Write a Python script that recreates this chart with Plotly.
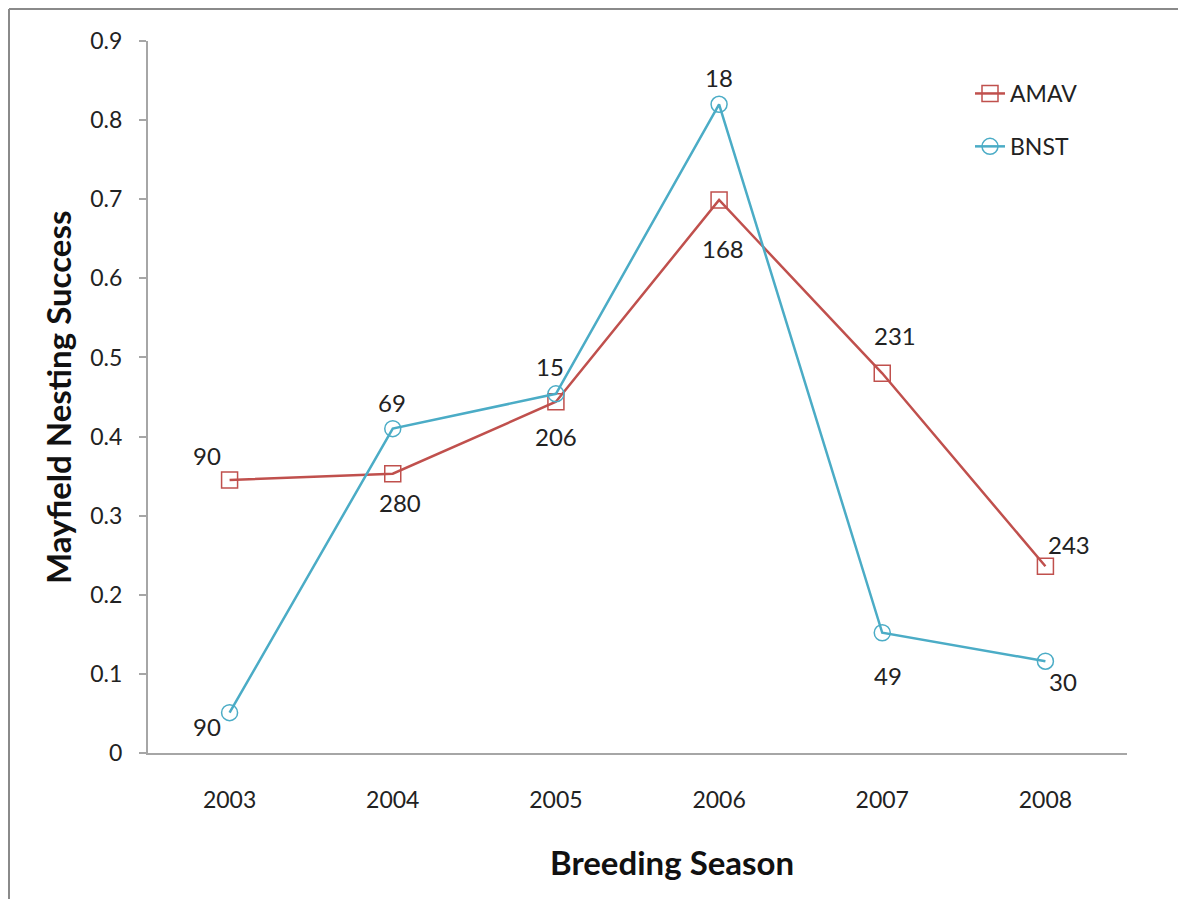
import plotly.graph_objects as go

years = ["2003", "2004", "2005", "2006", "2007", "2008"]
amav = [0.345, 0.353, 0.444, 0.699, 0.480, 0.236]
bnst = [0.051, 0.410, 0.454, 0.820, 0.152, 0.116]
amav_n = ["90", "280", "206", "168", "231", "243"]
bnst_n = ["90", "69", "15", "18", "49", "30"]
# label offsets in pixels (xshift, yshift)
amav_off = [(-23, 25), (7, -29), (0, -35), (4, -48), (13, 38), (24, 22)]
bnst_off = [(-23, -14), (-1, 26), (-6, 27), (0, 27), (6, -43), (18, -20)]

RED = "#C0504D"
BLUE = "#4BACC6"
FONT = "Lato"

fig = go.Figure()
fig.add_trace(go.Scatter(
    x=years, y=amav, name="AMAV", mode="lines+markers", legendgroup="a",
    line=dict(color=RED, width=2.5),
    marker=dict(symbol="square-open", size=16, color=RED, line=dict(width=1.5)),
))
fig.add_trace(go.Scatter(
    x=years, y=bnst, name="BNST", mode="lines+markers", legendgroup="b",
    line=dict(color=BLUE, width=2.5),
    marker=dict(symbol="circle-open", size=16, color=BLUE, line=dict(width=1.5)),
))

ann = []
for i, (v, t, (dx, dy)) in enumerate(zip(amav, amav_n, amav_off)):
    ann.append(dict(xref="x", yref="y", x=i, y=v, text=t, showarrow=False,
                    xshift=dx, yshift=dy, xanchor="center", yanchor="middle",
                    font=dict(family=FONT, size=24, color="#222")))
for i, (v, t, (dx, dy)) in enumerate(zip(bnst, bnst_n, bnst_off)):
    ann.append(dict(xref="x", yref="y", x=i, y=v, text=t, showarrow=False,
                    xshift=dx, yshift=dy, xanchor="center", yanchor="middle",
                    font=dict(family=FONT, size=24, color="#222")))
ann.append(dict(xref="paper", yref="paper", x=(672 - 148) / 979, y=(753 - 862) / 712,
                text="<b>Breeding Season</b>", showarrow=False,
                xanchor="center", yanchor="middle",
                font=dict(family=FONT, size=33, color="#111")))
ann.append(dict(xref="paper", yref="paper", x=(58 - 148) / 979, y=(753 - 398) / 712,
                text="<b>Mayfield Nesting Success</b>", showarrow=False, textangle=-90,
                xanchor="center", yanchor="middle",
                font=dict(family=FONT, size=33, color="#111")))

shapes = [
    dict(type="line", xref="paper", yref="paper", x0=(9 - 148) / 979, x1=(1178 - 148) / 979,
         y0=(753 - 9) / 712, y1=(753 - 9) / 712, line=dict(color="#8a8a8a", width=2)),
    dict(type="line", xref="paper", yref="paper", x0=(9 - 148) / 979, x1=(9 - 148) / 979,
         y0=(753 - 9) / 712, y1=(753 - 899) / 712, line=dict(color="#8a8a8a", width=2)),
]

fig.update_layout(
    width=1178, height=899,
    margin=dict(l=148, r=51, t=41, b=146),
    paper_bgcolor="white", plot_bgcolor="white",
    font=dict(family=FONT, size=23, color="#222"),
    annotations=ann, shapes=shapes,
    showlegend=True,
    legend=dict(x=(970 - 148) / 979, y=(753 - 72) / 712, xanchor="left", yanchor="top",
                font=dict(family=FONT, size=23, color="#222"),
                tracegroupgap=20, traceorder="grouped", bgcolor="rgba(0,0,0,0)"),
    xaxis=dict(type="category", range=[-0.5, 5.5], showline=True, linecolor="#a6a6a6",
               linewidth=2, ticks="", showgrid=False, zeroline=False,
               tickfont=dict(family=FONT, size=23, color="#222"), ticklabelstandoff=25),
    yaxis=dict(range=[0, 0.9], dtick=0.1, tick0=0, showline=True, linecolor="#a6a6a6",
               linewidth=2, ticks="outside", ticklen=7, tickcolor="#a6a6a6", tickwidth=1.5,
               showgrid=False, zeroline=False,
               tickfont=dict(family=FONT, size=23, color="#222"), ticklabelstandoff=12),
)

fig.write_html("out.html")
